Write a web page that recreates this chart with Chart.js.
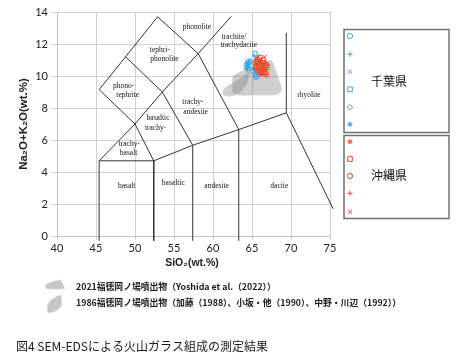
<!DOCTYPE html>
<html lang="ja">
<head>
<meta charset="UTF-8">
<script src="https://cdnjs.cloudflare.com/ajax/libs/Chart.js/4.4.1/chart.umd.min.js"></script>
<title>図4 SEM-EDSによる火山ガラス組成の測定結果</title>
<style>
  body { margin: 0; background: #fff; }
  canvas { display: block; }
</style>
</head>
<body>
<canvas id="myChart" width="463" height="360"></canvas>
<script>
  const xTicks = [40, 45, 50, 55, 60, 65, 70, 75];
  const yTicks = [0, 2, 4, 6, 8, 10, 12, 14];

  // TAS field boundaries (SiO2, Na2O+K2O)
  const basaltBox = [[45.4, -0.3], [45.4, 4.7], [52.4, 4.7], [52.4, -0.3]];
  const lowerTrachyLine = [[52.4, 4.7], [57.4, 5.67], [63.3, 6.65], [69.4, 7.7], [75.4, 1.7]];
  const andesiteLine = [[57.4, -0.3], [57.4, 5.67]];
  const daciteLine = [[63.3, -0.3], [63.3, 6.65]];
  const rhyoliteLine = [[69.4, 7.7], [69.4, 12.7]];
  const diagonalLine = [[45.4, 4.7], [50, 7], [53.5, 9], [58.1, 11.4], [62.35, 13.73]];
  const foidLine = [[52.4, 4.7], [50, 7], [45.4, 9.15], [48.8, 11.2], [52.9, 13.7], [58.1, 11.4], [63.3, 6.65]];
  const middleLine = [[48.8, 11.2], [53.5, 9], [57.4, 5.67]];

  const fieldLabels = [
    ['phonolite', 57.95, 13.06], ['trachite/', 62.7, 12.45], ['trachydacite', 63.3, 11.92],
    ['tephri-', 53.18, 11.6], ['phonolite', 53.78, 11.04],
    ['phono-', 48.54, 9.4], ['tephrite', 49.07, 8.84],
    ['trachy-', 57.43, 8.38], ['andesite', 57.77, 7.73],
    ['basaltic', 52.95, 7.4], ['trachy-', 52.64, 6.75],
    ['trachy-', 49.27, 5.77], ['basalt', 49.18, 5.19],
    ['basalt', 48.93, 3.1], ['basaltic', 54.91, 3.31], ['andesite', 60.46, 3.1],
    ['dacite', 68.5, 3.1], ['rhyolite', 72.3, 8.84]
  ];

  // gray fields of earlier eruptions
  const field2021 = [[62.5, 10.0], [64.5, 10.5], [66.3, 10.8], [67.5, 10.95], [68.3, 10.0], [68.8, 9.15], [68.3, 8.85], [65.5, 8.8], [63.5, 8.79], [62.5, 8.98], [62.5, 10.0]];
  const field1986 = [[64.7, 10.3], [63.5, 9.86], [62.3, 9.5], [61.4, 9.2], [61.3, 8.85], [62.2, 8.72], [63.5, 8.98], [64.3, 9.5], [64.7, 10.3]];

  // 千葉県
  const chibaCircle = [[65.4, 11.4], [65.55, 9.95]];
  const chibaPlus = [[64.3, 10.8], [64.45, 10.55], [64.2, 10.65], [64.55, 10.9], [64.4, 10.4], [65.3, 11.25]];
  const chibaX = [[64.7, 11.0], [64.55, 10.7], [64.85, 10.8], [64.95, 10.45], [64.3, 10.95]];
  const chibaSquare = [[65.5, 10.0], [65.35, 10.1]];
  const chibaDiamond = [[64.8, 10.9], [65.05, 10.3]];
  const chibaStar = [[64.4, 10.75], [64.6, 10.6], [64.25, 10.5]];

  // 沖縄県
  const okiStar = [[65.6, 11.05], [66.1, 10.9], [66.4, 10.7], [65.9, 10.5], [66.6, 10.4], [66.2, 10.3], [65.7, 10.75], [66.8, 10.8], [66.0, 10.1], [66.45, 10.15]];
  const okiSquare = [[65.4, 10.6], [65.8, 10.3], [66.3, 10.5], [66.7, 10.2], [65.6, 10.9], [66.5, 10.85], [66.1, 10.65], [65.5, 10.35], [66.9, 10.65]];
  const okiCircle = [[66.0, 11.15], [65.7, 11.0], [66.4, 11.0], [66.2, 10.55], [65.9, 10.7], [66.7, 10.6], [65.6, 10.55]];
  const okiPlus = [[65.5, 10.8], [65.9, 10.9], [66.3, 10.8], [66.6, 10.55], [65.7, 10.45], [66.1, 10.2], [66.9, 10.4], [65.4, 10.45], [66.35, 10.35]];
  const okiX = [[65.8, 11.2], [66.6, 11.2], [66.9, 10.0], [67.0, 10.15], [65.3, 10.9], [66.2, 11.05], [66.5, 10.05], [65.6, 10.2], [67.1, 10.6], [66.0, 10.4]];

  const blue = '#3fa3e6';
  const red = '#ee4a2c';

  const chibaSeries = [[chibaCircle, 'circle'], [chibaPlus, 'cross'], [chibaX, 'crossRot'], [chibaSquare, 'rect'], [chibaDiamond, 'rectRot'], [chibaStar, 'star']];
  const okiSeries = [[okiStar, 'star'], [okiSquare, 'rect'], [okiCircle, 'circle'], [okiPlus, 'cross'], [okiX, 'crossRot']];

  const xy = arr => arr.map(p => ({ x: p[0], y: p[1] }));

  function lineSet(arr) {
    return { data: xy(arr), showLine: true, borderColor: '#333', borderWidth: 1, pointRadius: 0, fill: false, clip: false, order: 3 };
  }
  function fieldSet(arr) {
    return { data: xy(arr), showLine: true, borderColor: 'rgba(220,220,220,0.9)', borderWidth: 1, borderDash: [2, 2], backgroundColor: 'rgba(120,120,120,0.36)', pointRadius: 0, fill: 'shape', tension: 0.25, order: 2 };
  }
  function pointSet(arr, style, color) {
    return { data: xy(arr), showLine: false, pointStyle: style, pointRadius: 2.6, borderWidth: 1, borderColor: color, backgroundColor: 'rgba(0,0,0,0)', order: 1 };
  }

  const datasets = [
    lineSet(basaltBox), lineSet(lowerTrachyLine), lineSet(andesiteLine), lineSet(daciteLine),
    lineSet(rhyoliteLine), lineSet(diagonalLine), lineSet(foidLine), lineSet(middleLine),
    fieldSet(field2021), fieldSet(field1986)
  ];
  chibaSeries.forEach(s => datasets.push(pointSet(s[0], s[1], blue)));
  okiSeries.forEach(s => datasets.push(pointSet(s[0], s[1], red)));

  function marker(ctx, style, x, y, r, color) {
    ctx.save();
    ctx.strokeStyle = color;
    ctx.lineWidth = 1;
    ctx.beginPath();
    if (style === 'circle') ctx.arc(x, y, r, 0, Math.PI * 2);
    if (style === 'rect') ctx.rect(x - r * 0.9, y - r * 0.9, r * 1.8, r * 1.8);
    if (style === 'rectRot') { ctx.moveTo(x, y - r * 1.1); ctx.lineTo(x + r * 1.1, y); ctx.lineTo(x, y + r * 1.1); ctx.lineTo(x - r * 1.1, y); ctx.closePath(); }
    if (style === 'cross' || style === 'star') { ctx.moveTo(x - r, y); ctx.lineTo(x + r, y); ctx.moveTo(x, y - r); ctx.lineTo(x, y + r); }
    if (style === 'crossRot' || style === 'star') { const d = r * 0.8; ctx.moveTo(x - d, y - d); ctx.lineTo(x + d, y + d); ctx.moveTo(x + d, y - d); ctx.lineTo(x - d, y + d); }
    ctx.stroke();
    ctx.restore();
  }

  const decor = {
    id: 'decor',
    afterDraw(chart) {
      const ctx = chart.ctx;
      const xs = chart.scales.x, ys = chart.scales.y;
      ctx.save();
      // field names
      ctx.fillStyle = '#111';
      ctx.font = '7.5px "Liberation Serif"';
      ctx.textAlign = 'center';
      ctx.textBaseline = 'middle';
      fieldLabels.forEach(f => ctx.fillText(f[0], xs.getPixelForValue(f[1]), ys.getPixelForValue(f[2])));

      // axis titles
      ctx.fillStyle = '#222';
      ctx.font = 'bold 10.5px "Liberation Sans"';
      ctx.fillText('SiO₂(wt.%)', 192, 263);
      ctx.save();
      ctx.translate(24, 124);
      ctx.rotate(-Math.PI / 2);
      ctx.font = 'bold 11.5px "Liberation Sans"';
      ctx.fillText('Na₂O+K₂O(wt.%)', 0, 0);
      ctx.restore();

      // prefecture legend boxes
      ctx.strokeStyle = '#707070';
      ctx.lineWidth = 1.5;
      ctx.strokeRect(344, 29.5, 105, 103);
      ctx.strokeRect(344, 135.5, 105, 83);
      const chibaY = [36, 54.3, 71.7, 89.3, 107.3, 124.3];
      chibaSeries.forEach((s, i) => marker(ctx, s[1], 350, chibaY[i], 2.6, blue));
      const okiY = [141.7, 159, 176, 193.3, 211.7];
      okiSeries.forEach((s, i) => marker(ctx, s[1], 350, okiY[i], 2.6, red));
      ctx.fillStyle = '#111';
      ctx.font = '12px "Noto Sans CJK JP"';
      ctx.fillText('千葉県', 389, 81);
      ctx.fillText('沖縄県', 389, 175);

      // eruption legend
      ctx.fillStyle = '#c6c6c6';
      ctx.strokeStyle = '#dedede';
      ctx.lineWidth = 1;
      ctx.setLineDash([2, 1]);
      ctx.beginPath();
      ctx.moveTo(45, 285.5); ctx.quadraticCurveTo(50, 281, 61, 280); ctx.lineTo(65, 288.5);
      ctx.quadraticCurveTo(55, 290, 46, 288.5); ctx.closePath();
      ctx.fill(); ctx.stroke();
      ctx.beginPath();
      ctx.moveTo(61, 295); ctx.quadraticCurveTo(50, 298, 47, 306); ctx.lineTo(48, 313);
      ctx.quadraticCurveTo(59, 312, 62, 304); ctx.closePath();
      ctx.fill(); ctx.stroke();
      ctx.setLineDash([]);

      ctx.fillStyle = '#1a1a1a';
      ctx.textAlign = 'left';
      ctx.font = 'bold 8.8px "Noto Sans CJK JP"';
      ctx.fillText('2021福徳岡ノ場噴出物（Yoshida et al.（2022））', 76, 286.5);
      ctx.fillText('1986福徳岡ノ場噴出物（加藤（1988）、小坂・他（1990）、中野・川辺（1992））', 76, 303);

      ctx.font = '12px "Noto Sans CJK JP"';
      ctx.fillText('図4 SEM-EDSによる火山ガラス組成の測定結果', 16, 346);
      ctx.restore();
    }
  };

  const ctx = document.getElementById('myChart').getContext('2d');
  const myChart = new Chart(ctx, {
    type: 'scatter',
    data: { datasets: datasets },
    options: {
      responsive: false,
      animation: false,
      layout: { padding: { left: 0, top: 12, right: 133, bottom: 100 } },
      plugins: { legend: { display: false }, tooltip: { enabled: false } },
      scales: {
        x: {
          type: 'linear', min: 40, max: 75,
          afterBuildTicks: s => { s.ticks = xTicks.map(v => ({ value: v })); },
          afterFit: s => { s.height = 24; },
          ticks: { font: { family: 'Lato', size: 11 }, color: '#222', padding: 2 },
          grid: { color: '#d0d0d0', tickLength: 4 },
          border: { color: '#c0c0c0' }
        },
        y: {
          type: 'linear', min: 0, max: 14,
          afterBuildTicks: s => { s.ticks = yTicks.map(v => ({ value: v })); },
          afterFit: s => { s.width = 57; },
          ticks: { font: { family: 'Lato', size: 11 }, color: '#222', padding: 4 },
          grid: { color: '#d0d0d0', tickLength: 5 },
          border: { color: '#c0c0c0' }
        }
      }
    },
    plugins: [decor]
  });
</script>
</body>
</html>
